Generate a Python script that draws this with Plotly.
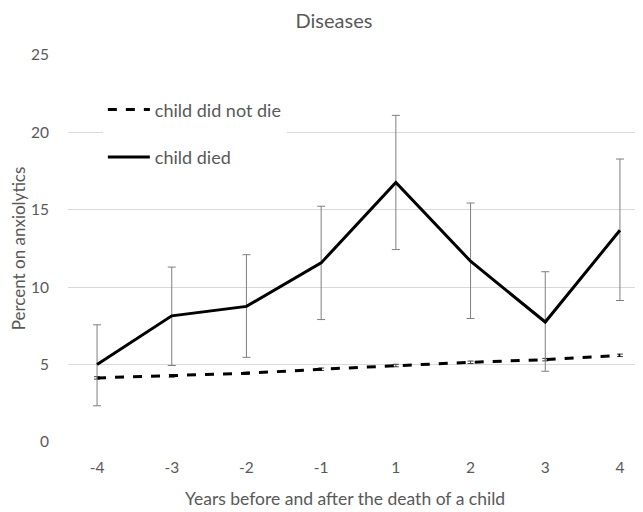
import plotly.graph_objects as go

years = ["-4", "-3", "-2", "-1", "1", "2", "3", "4"]
died = [5.0, 8.15, 8.76, 11.57, 16.77, 11.68, 7.75, 13.68]
died_upper = [7.57, 11.3, 12.1, 15.23, 21.1, 15.44, 11.0, 18.28]
died_lower = [2.34, 4.94, 5.47, 7.91, 12.43, 7.98, 4.57, 9.14]
notdied = [4.14, 4.27, 4.44, 4.70, 4.94, 5.15, 5.32, 5.60]
notdied_err = [0.08, 0.08, 0.08, 0.08, 0.08, 0.08, 0.08, 0.08]

err_plus = [u - v for u, v in zip(died_upper, died)]
err_minus = [v - l for v, l in zip(died, died_lower)]

FONT = "Lato"
GREY = "#595959"

fig = go.Figure()
fig.add_trace(go.Scatter(
    x=years, y=notdied, mode="lines", name="child did not die",
    line=dict(color="black", width=3, dash="dash"),
    error_y=dict(type="data", array=notdied_err, color="#404040", thickness=1, width=3),
    legendgroup="a",
))
fig.add_trace(go.Scatter(
    x=years, y=died, mode="lines", name="child died",
    line=dict(color="black", width=3),
    error_y=dict(type="data", symmetric=False, array=err_plus, arrayminus=err_minus,
                 color="#7f7f7f", thickness=1, width=4),
    legendgroup="b",
))

fig.update_layout(
    width=643, height=504,
    margin=dict(l=60, r=2, t=47, b=70),
    paper_bgcolor="white", plot_bgcolor="white",
    font=dict(family=FONT, color=GREY, size=15),
    title=dict(text="Diseases", x=0.507, xanchor="center", y=0.975, yanchor="middle",
               font=dict(family=FONT, size=20, color=GREY)),
    showlegend=True,
    legend=dict(x=0.06, y=0.906, xanchor="left", yanchor="top",
                bgcolor="white", traceorder="grouped", tracegroupgap=21,
                itemwidth=42,
                font=dict(family=FONT, size=18, color=GREY)),
    xaxis=dict(type="category", showgrid=False, zeroline=False, showline=False,
               ticks="", ticklabelstandoff=14, tickfont=dict(size=15.5, color=GREY)),
    yaxis=dict(range=[0, 25], dtick=5, showgrid=True, gridcolor="#d9d9d9", gridwidth=1,
               zeroline=False, showline=False, ticks="", ticklabelstandoff=18,
               tickfont=dict(size=15.5, color=GREY),
               title=dict(text="Percent on anxiolytics", font=dict(size=17, color=GREY),
                          standoff=7)),
    annotations=[dict(text="Years before and after the death of a child",
                      xref="paper", yref="paper", x=0.477, y=-0.147,
                      xanchor="center", yanchor="middle", showarrow=False,
                      font=dict(family=FONT, size=17.5, color=GREY))],
)

fig.write_html("out.html")
